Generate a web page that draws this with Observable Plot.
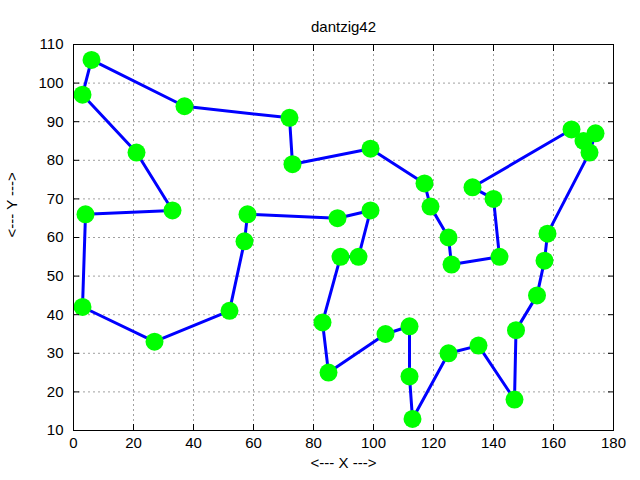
<!DOCTYPE html>
<html>
<head>
<meta charset="utf-8">
<script src="https://cdn.jsdelivr.net/npm/d3@7"></script>
<script src="https://cdn.jsdelivr.net/npm/@observablehq/plot@0.6"></script>
<style>
  body { margin: 0; background: white; }
</style>
</head>
<body>
<div id="chart"></div>
<script>
// dantzig42 cities, in tour order
const xs = [170, 166, 133, 140, 142, 126, 125, 119, 117, 99, 73, 72, 37, 6, 3, 21, 33, 4, 3, 27, 52,
            57, 58, 88, 99, 95, 89, 83, 85, 104, 112, 112, 113, 125, 135, 147, 147.5, 154.5, 157, 158, 172, 174];
const ys = [85, 88, 73, 70, 55, 53, 60, 68, 74, 83, 79, 91, 94, 106, 97, 82, 67, 66, 42, 33, 41,
            59, 66, 65, 67, 55, 55, 38, 25, 35, 37, 24, 13, 30, 32, 18, 36, 45, 54, 61, 82, 87];
const xTicks = [0, 20, 40, 60, 80, 100, 120, 140, 160, 180];
const yTicks = [10, 20, 30, 40, 50, 60, 70, 80, 90, 100, 110];

const title = "dantzig42";
const xLabel = "<--- X --->";
const yLabel = "<--- Y --->";

const cities = xs.map((x, i) => ({x, y: ys[i]}));

const chart = Plot.plot({
  width: 640,
  height: 480,
  marginTop: 44,
  marginRight: 27,
  marginBottom: 50,
  marginLeft: 73,
  style: {fontFamily: "'Liberation Sans', Arial, sans-serif", fontSize: "15px", background: "white", color: "black"},
  x: {domain: [0, 180], label: null},
  y: {domain: [10, 110], label: null},
  marks: [
    Plot.gridX(xTicks, {stroke: "#a0a0a0", strokeOpacity: 1, strokeDasharray: "2,3"}),
    Plot.gridY(yTicks, {stroke: "#a0a0a0", strokeOpacity: 1, strokeDasharray: "2,3"}),
    Plot.line(cities, {x: "x", y: "y", curve: "linear-closed", stroke: "#0000ff", strokeWidth: 3}),
    Plot.dot(cities, {x: "x", y: "y", r: 9, fill: "#00ff00", stroke: null}),
    Plot.frame({stroke: "black"}),
    Plot.axisX(xTicks, {anchor: "bottom", tickSize: 6, dy: -6, tickPadding: 7}),
    Plot.axisX(xTicks, {anchor: "top", tickSize: 6, dy: 6, tickFormat: () => ""}),
    Plot.axisY(yTicks, {anchor: "left", tickSize: 6, dx: 6, tickPadding: 10}),
    Plot.axisY(yTicks, {anchor: "right", tickSize: 6, dx: -6, tickFormat: () => ""}),
    Plot.text([title], {frameAnchor: "top", dy: -23, fontSize: 15}),
    Plot.text([xLabel], {frameAnchor: "bottom", dy: 37, fontSize: 15}),
    Plot.text([yLabel], {frameAnchor: "left", dx: -61, rotate: -90, fontSize: 15})
  ]
});

d3.select("#chart").append(() => chart);
</script>
</body>
</html>
